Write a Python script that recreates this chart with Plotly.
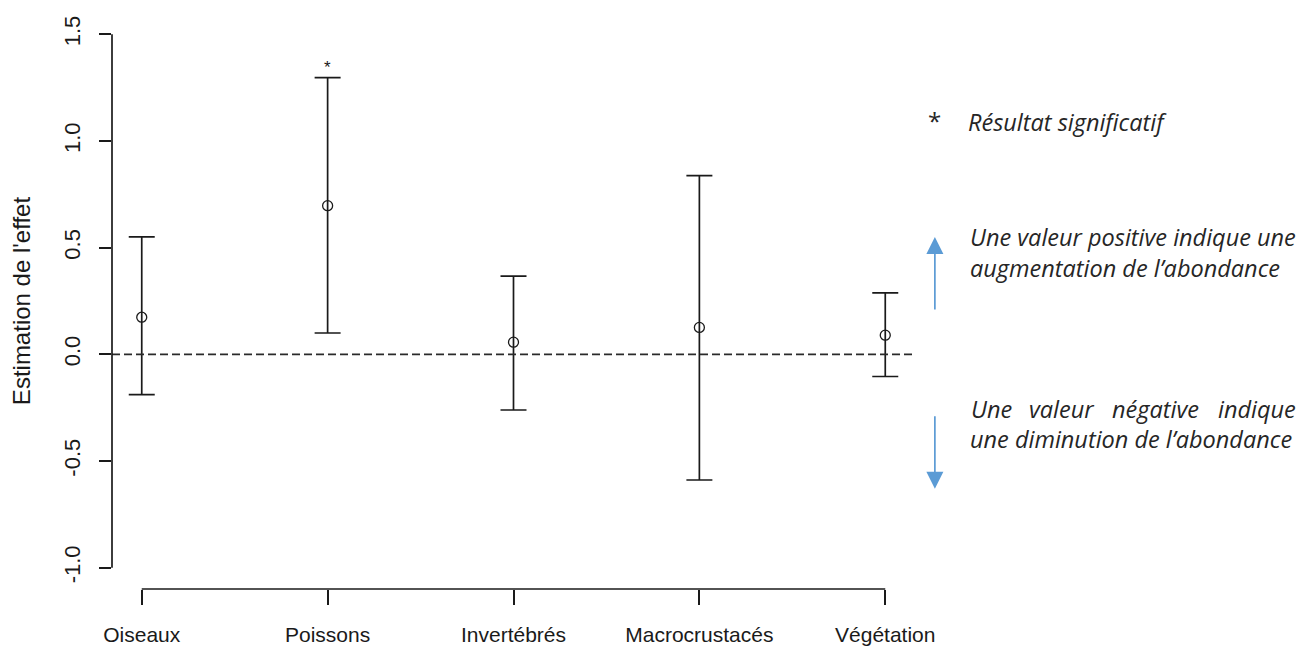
import plotly.graph_objects as go

# ---- data ----
categories = ["Oiseaux", "Poissons", "Invertébrés", "Macrocrustacés", "Végétation"]
estimate = [0.174, 0.697, 0.057, 0.126, 0.090]
upper = [0.551, 1.297, 0.367, 0.838, 0.288]
lower = [-0.189, 0.100, -0.261, -0.589, -0.104]
significant = [False, True, False, False, False]
y_ticks = [-1.0, -0.5, 0.0, 0.5, 1.0, 1.5]
y_ticklabels = ["-1.0", "-0.5", "0.0", "0.5", "1.0", "1.5"]

note_star = "Résultat significatif"
note_pos = ["Une valeur positive indique une", "augmentation de l’abondance"]
note_neg_words = ["Une", "valeur", "négative", "indique"]
note_neg_line2 = "une diminution de l’abondance"

# ---- layout geometry (reference pixels; page body adds an 8px margin) ----
OFF = 8
W, H = 1314 - OFF, 651 - OFF
L, R, T, B = 107 - OFF, 915 - OFF, 13 - OFF, 594 - OFF
INK = "#1a1a1a"
BLUE = "#5B9BD5"

def px(xp):
    return (xp - OFF - L) / (R - L)

def py(yp):
    return (B - (yp - OFF)) / (B - T)

xs = list(range(len(categories)))

fig = go.Figure()
fig.add_trace(go.Scatter(
    x=xs, y=estimate, mode="markers",
    marker=dict(symbol="circle-open", size=10, color=INK, line=dict(width=1.3, color=INK)),
    error_y=dict(type="data", symmetric=False,
                 array=[u - e for u, e in zip(upper, estimate)],
                 arrayminus=[e - l for e, l in zip(estimate, lower)],
                 width=13, thickness=1.7, color=INK),
    showlegend=False, hoverinfo="skip",
))

shapes = [
    dict(type="line", xref="paper", yref="y", x0=0, x1=1, y0=0, y1=0,
         line=dict(color="#2a2a2a", width=1.6, dash="8px,4px")),
    dict(type="line", xref="paper", yref="y", x0=0, x1=0, y0=y_ticks[0], y1=y_ticks[-1],
         line=dict(color=INK, width=1.7)),
    dict(type="line", xref="x", yref="paper", x0=xs[0], x1=xs[-1], y0=0, y1=0,
         line=dict(color=INK, width=1.7)),
]

annotations = []
for x, u, s in zip(xs, upper, significant):
    if s:
        annotations.append(dict(x=x, y=u, xref="x", yref="y", text="*", showarrow=False,
                                yshift=10, font=dict(family="Liberation Sans", size=17, color=INK)))

NOTE_FAM = "Open Sans"
note_font = dict(family=NOTE_FAM, size=23.5, color="#262626")
annotations.append(dict(x=px(935), y=py(121), xref="paper", yref="paper", text="*",
                        showarrow=False, xanchor="center", yanchor="middle",
                        font=dict(family=NOTE_FAM, size=24, color="#262626")))
annotations.append(dict(x=px(966), y=py(123), xref="paper", yref="paper",
                        text="<i>" + note_star + "</i>", showarrow=False,
                        xanchor="left", yanchor="middle", font=note_font))
for i, line in enumerate(note_pos):
    annotations.append(dict(x=px(968), y=py(239 + 31 * i), xref="paper", yref="paper",
                            text="<i>" + line + "</i>", showarrow=False,
                            xanchor="left", yanchor="middle", font=note_font))
neg_x = [969, 1028, 1111, 1300]
neg_anchor = ["left", "left", "left", "right"]
for w, xp, anc in zip(note_neg_words, neg_x, neg_anchor):
    annotations.append(dict(x=px(xp), y=py(412), xref="paper", yref="paper",
                            text="<i>" + w + "</i>", showarrow=False,
                            xanchor=anc, yanchor="middle", font=note_font))
annotations.append(dict(x=px(968), y=py(443), xref="paper", yref="paper",
                        text="<i>" + note_neg_line2 + "</i>", showarrow=False,
                        xanchor="left", yanchor="middle", font=note_font))

# blue arrows (tail offset in pixels)
annotations.append(dict(x=px(935), y=py(239), ax=0, ay=74, xref="paper", yref="paper",
                        text="", showarrow=True,
                        arrowhead=2, arrowsize=2.0, arrowwidth=1.7, arrowcolor=BLUE))
annotations.append(dict(x=px(935), y=py(493), ax=0, ay=-74, xref="paper", yref="paper",
                        text="", showarrow=True,
                        arrowhead=2, arrowsize=2.0, arrowwidth=1.7, arrowcolor=BLUE))

fig.update_layout(
    width=W, height=H,
    margin=dict(l=L, r=W - R, t=T, b=H - B, pad=0),
    paper_bgcolor="white", plot_bgcolor="white",
    shapes=shapes, annotations=annotations,
    font=dict(family="Liberation Sans", color=INK),
    xaxis=dict(range=[-0.16, 4.16], tickvals=xs, ticktext=categories,
               showgrid=False, zeroline=False, showline=False,
               ticks="outside", ticklen=15, tickwidth=1.7, tickcolor=INK,
               ticklabelstandoff=12,
               tickfont=dict(family="Liberation Sans", size=21, color=INK)),
    yaxis=dict(range=[-1.1, 1.6], tickvals=y_ticks, ticktext=y_ticklabels,
               showgrid=False, zeroline=False, showline=False,
               ticks="outside", ticklen=12, tickwidth=1.7, tickcolor=INK, tickangle=-90,
               ticklabelstandoff=10,
               tickfont=dict(family="Liberation Sans", size=22, color=INK),
               title=dict(text="Estimation de l'effet", standoff=30,
                          font=dict(family="Liberation Sans", size=24, color=INK))),
)

fig.write_html("out.html")
